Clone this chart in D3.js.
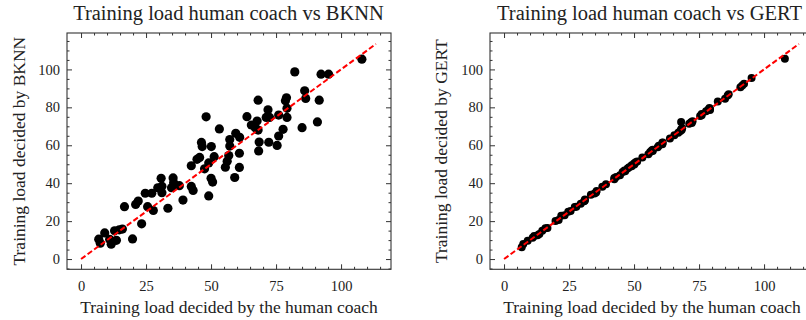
<!DOCTYPE html>
<html>
<head>
<meta charset="utf-8">
<script src="https://cdn.jsdelivr.net/npm/d3@7"></script>
<style>
  body { margin: 0; background: #fff; }
  svg { display: block; }
  text { font-family: "Liberation Serif", "Times New Roman", serif; fill: #222; }
</style>
</head>
<body>
<svg id="chart" width="806" height="320"></svg>
<script>
// Training load decided by the human coach (x for both panels)
const humanLoad = [6.8, 7.4, 9.1, 11.0, 11.6, 12.9, 13.6, 14.7, 15.9, 16.7, 19.8, 21.0, 22.0, 23.3, 24.7, 25.6, 27.2, 27.8, 29.5, 30.8,
  31.1, 31.1, 33.4, 34.8, 35.4, 35.6, 37.8, 39.2, 42.4, 42.4, 43.1, 44.6, 45.6, 46.3, 46.6, 47.5, 48.1, 49.1, 49.1, 50.0,
  50.1, 50.6, 51.2, 53.2, 55.5, 56.2, 56.8, 57.2, 57.2, 59.1, 59.5, 60.9, 60.9, 61.0, 63.8, 65.5, 67.0, 67.7, 68.1, 68.1,
  68.3, 68.5, 71.2, 71.9, 72.2, 72.5, 75.4, 76.0, 76.0, 77.7, 78.6, 79.0, 79.2, 79.2, 82.2, 85.0, 86.0, 86.4, 90.9, 91.6,
  92.3, 95.2, 108.0];

const bknnLoad = [10.5, 8.4, 13.8, 10.4, 7.8, 14.9, 9.9, 15.4, 15.8, 27.6, 10.6, 28.8, 30.6, 18.6, 34.7, 27.6, 34.7, 25.6, 37.6, 42.6,
  38.4, 35.0, 26.8, 37.6, 42.8, 40.2, 38.7, 31.1, 49.2, 38.3, 36.2, 52.6, 53.6, 61.5, 59.3, 47.6, 75.0, 33.3, 50.7, 42.6,
  59.3, 40.6, 54.0, 68.6, 48.4, 51.6, 54.6, 59.6, 63.0, 43.0, 66.3, 55.8, 48.3, 64.2, 75.1, 70.7, 69.3, 72.8, 83.8, 68.0,
  57.0, 61.7, 74.7, 78.7, 61.6, 74.7, 59.9, 75.9, 64.9, 68.4, 83.5, 85.0, 79.5, 74.7, 98.7, 69.3, 88.7, 84.7, 72.3, 83.8,
  97.5, 97.5, 105.4];

const gertLoad = [6.2, 7.9, 9.6, 11.3, 12.1, 12.6, 13.2, 14.9, 16.3, 16.4, 20.1, 20.6, 22.8, 23.1, 24.9, 25.3, 27.5, 27.6, 29.2, 30.5,
  31.4, 30.9, 33.9, 34.6, 35.1, 35.9, 38.1, 39.4, 42.8, 42.1, 43.3, 44.2, 45.9, 46.7, 46.3, 47.8, 48.4, 49.0, 49.5, 50.4,
  49.8, 51.0, 51.4, 53.5, 55.2, 56.4, 57.2, 57.0, 57.6, 59.0, 59.8, 61.3, 60.6, 61.4, 63.6, 65.3, 66.6, 67.4, 72.3, 68.5,
  68.0, 69.0, 71.3, 72.2, 71.8, 72.7, 75.5, 75.8, 76.5, 77.9, 78.8, 79.6, 79.1, 78.6, 83.1, 84.5, 86.3, 86.9, 90.6, 91.5,
  92.5, 95.5, 105.6];

const tickValuesX = [0, 25, 50, 75, 100];
const tickValuesY = [0, 20, 40, 60, 80, 100];

const svg = d3.select("#chart");

// y = x reference line runs from 0 to 5% beyond the largest load
const lineEnd = d3.max(humanLoad) * 1.05;

const panels = [
  { title: "Training load human coach vs BKNN", ylabel: "Training load decided by BKNN", model: bknnLoad, left: 67, right: 391, titleX: 228.5, labelX: 24.5, r: 4.6 },
  { title: "Training load human coach vs GERT", ylabel: "Training load decided by GERT", model: gertLoad, left: 490, right: 814, titleX: 649.5, labelX: 447, r: 4.0 }
];

const plotTop = 33, plotBottom = 269.3;

panels.forEach(p => {
  const x = d3.scaleLinear().domain([-5.4, 119.2]).range([p.left, p.right]);
  const y = d3.scaleLinear().domain([-5.4, 119.2]).range([plotBottom, plotTop]);
  const g = svg.append("g");

  const points = humanLoad.map((h, i) => ({ h: h, m: p.model[i] }));

  g.selectAll("circle")
    .data(points)
    .enter().append("circle")
    .attr("cx", d => x(d.h))
    .attr("cy", d => y(d.m))
    .attr("r", p.r)
    .attr("fill", "#000");

  g.append("line")
    .attr("x1", x(0)).attr("y1", y(0))
    .attr("x2", x(lineEnd)).attr("y2", y(lineEnd))
    .attr("stroke", "red")
    .attr("stroke-width", 2)
    .attr("stroke-dasharray", "5.5,2.6");

  // inward ticks on all four sides
  const minorX = d3.range(0, 120, 5).filter(v => v % 25 !== 0);
  const minorY = d3.range(-5, 120, 5).filter(v => v % 20 !== 0);

  const axB = d3.axisBottom(x).tickValues(tickValuesX).tickSize(-5).tickPadding(11);
  const axT = d3.axisTop(x).tickValues(tickValuesX).tickSize(-5).tickFormat("");
  const axL = d3.axisLeft(y).tickValues(tickValuesY).tickSize(-5).tickPadding(7);
  const axR = d3.axisRight(y).tickValues(tickValuesY).tickSize(-5).tickFormat("");

  const mB = d3.axisBottom(x).tickValues(minorX).tickSize(-2.5).tickFormat("");
  const mT = d3.axisTop(x).tickValues(minorX).tickSize(-2.5).tickFormat("");
  const mL = d3.axisLeft(y).tickValues(minorY).tickSize(-2.5).tickFormat("");
  const mR = d3.axisRight(y).tickValues(minorY).tickSize(-2.5).tickFormat("");

  [[mB, `translate(0,${plotBottom})`], [mT, `translate(0,${plotTop})`], [mL, `translate(${p.left},0)`], [mR, `translate(${p.right},0)`],
   [axB, `translate(0,${plotBottom})`], [axT, `translate(0,${plotTop})`], [axL, `translate(${p.left},0)`], [axR, `translate(${p.right},0)`]]
    .forEach(([ax, tr]) => {
      const a = g.append("g").attr("transform", tr).call(ax);
      a.select(".domain").remove();
      a.selectAll("line").attr("stroke", "#333").attr("stroke-width", 1);
      a.selectAll("text").attr("font-size", 14.5).attr("font-family", "Liberation Serif").attr("fill", "#222");
    });

  g.append("rect")
    .attr("x", p.left).attr("y", plotTop)
    .attr("width", p.right - p.left).attr("height", plotBottom - plotTop)
    .attr("fill", "none")
    .attr("stroke", "#333")
    .attr("stroke-width", 1.1);

  g.append("text")
    .attr("x", p.titleX).attr("y", 20)
    .attr("text-anchor", "middle")
    .attr("font-size", 20.5)
    .text(p.title);

  g.append("text")
    .attr("x", (p.left + p.right) / 2).attr("y", 312.5)
    .attr("text-anchor", "middle")
    .attr("font-size", 17.5)
    .text("Training load decided by the human coach");

  g.append("text")
    .attr("transform", `translate(${p.labelX},${(plotTop + plotBottom) / 2}) rotate(-90)`)
    .attr("text-anchor", "middle")
    .attr("font-size", 17.5)
    .text(p.ylabel);
});
</script>
</body>
</html>
